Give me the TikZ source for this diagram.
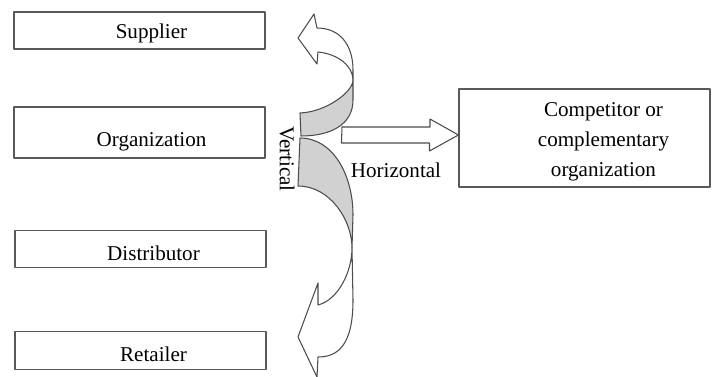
\documentclass[tikz,border=0pt]{standalone}
\usepackage{fontspec}
\setmainfont{Liberation Serif}
\usetikzlibrary{positioning}

\begin{document}
\begin{tikzpicture}[x=0.2mm,y=-0.2mm,line join=round,
  every node/.style={font=\fontsize{12}{17}\selectfont},
  unit/.style={draw=black!65,line width=0.6pt,minimum width=50.2mm,minimum height=7.4mm,inner sep=0pt},
  band/.style={draw=black!70,line width=0.6pt,fill=white},
  back/.style={draw=black!70,line width=0.6pt,fill=black!18}]
  \useasboundingbox (0,0) rectangle (712,377);

  \node[unit] (supplier) at (139.5,30.5) {};
  \node[unit,minimum height=10.2mm] (org) at (139.5,132.5) {};
  \node[unit] (distr) at (140.5,249.2) {};
  \node[unit,minimum height=7.5mm] (retail) at (140.5,350.5) {};
  \node[unit,minimum height=19.6mm] (comp) at (584.5,138) {};

  \node (suppliertxt) at ([xshift=2.4mm,yshift=-0.6mm]supplier.center) {Supplier};
  \node (orgtxt) at ([xshift=2.4mm,yshift=-1.9mm]org.center) {Organization};
  \node (distrtxt) at ([xshift=2.6mm,yshift=-0.8mm]distr.center) {Distributor};
  \node (retailtxt) at ([xshift=2.6mm,yshift=-0.7mm]retail.center) {Retailer};
  \node[align=center] (comptxt) at ([xshift=3.8mm,yshift=-0.8mm]comp.center)
    {Competitor or\\complementary\\organization};

  % upward arrow
  \draw[band] (317,28) .. controls (340,28) and (353,45) .. (353,70) -- (353,80)
    .. controls (353,66) and (338,54) .. (318,52) -- (317,64) -- (298,38) -- (314,14) -- cycle;
  \draw[back] (353,80) .. controls (353,92) and (326,112) .. (300,113) -- (301,136)
    .. controls (330,136) and (353,125) .. (353,100) -- cycle;

  % downward arrow
  \draw[back] (300,138) .. controls (333,138) and (353,175) .. (353,215) -- (352,248)
    .. controls (352,220) and (330,186) .. (298,186) -- cycle;
  \draw[band] (352,248) -- (353,300) .. controls (353,345) and (338,357) .. (318,357)
    -- (317,377) -- (298,337) -- (318,283) -- (318,305)
    .. controls (338,300) and (352,272) .. (352,248) -- cycle;

  % horizontal arrow
  \coordinate (htail) at (342,135);
  \draw[band] (htail) ++(0,-8) -- ++(88,0) -- ++(0,-8) -- (comp.west |- htail)
    -- ++(-29,16) -- ++(0,-8) -- ++(-88,0) -- cycle;

  \node[rotate=-90] (vert) at (287,159) {Vertical};
  \node (horiz) at (396,170) {Horizontal};
\end{tikzpicture}
\end{document}
